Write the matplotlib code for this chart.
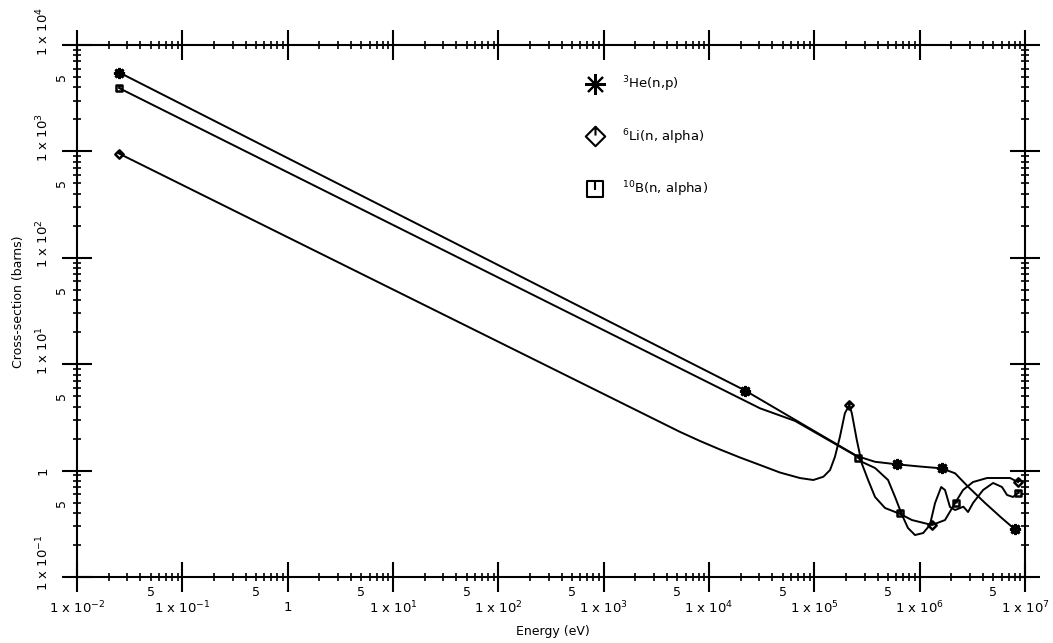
import numpy as np
import matplotlib
matplotlib.use("Agg")
import matplotlib.pyplot as plt
from matplotlib.path import Path
from matplotlib.lines import Line2D
from matplotlib.ticker import LogLocator, NullFormatter

# ---- data (energy in eV, cross-section in barns) ----
he3_energy = [0.0253, 2.2e4, 2.54e5, 3.77e5, 6.05e5, 1.0e6, 1.62e6, 2.17e6,
              2.88e6, 4.18e6, 6.02e6, 8.04e6]
he3_xs = [5500, 5.66, 1.37, 1.21, 1.146, 1.093, 1.05, 0.943,
          0.706, 0.496, 0.358, 0.280]
he3_mark_energy = [0.0253, 2.2e4, 6.05e5, 1.62e6, 8.04e6]
he3_mark_xs = [5500, 5.66, 1.146, 1.05, 0.280]

li6_energy = [0.0253, 5310, 8220, 12740, 19720, 30500, 47200, 73100, 97800,
              1.22e5, 1.41e5, 1.57e5, 1.75e5, 1.95e5, 2.15e5, 2.27e5, 2.53e5,
              2.82e5, 3.24e5, 3.77e5, 4.69e5, 6.51e5, 8.45e5, 1.31e6, 1.74e6,
              2.17e6, 2.58e6, 3.21e6, 4.37e6, 7.21e6, 8.59e6]
li6_xs = [950, 2.31, 1.897, 1.578, 1.327, 1.129, 0.959, 0.851, 0.816,
          0.876, 1.013, 1.35, 2.08, 3.46, 4.14, 3.46, 1.94,
          1.17, 0.816, 0.565, 0.445, 0.392, 0.343, 0.308, 0.343,
          0.496, 0.657, 0.781, 0.852, 0.852, 0.781]
li6_mark_energy = [0.0253, 2.15e5, 1.31e6, 8.59e6]
li6_mark_xs = [950, 4.14, 0.308, 0.781]

b10_energy = [0.0253, 3.05e4, 6.56e4, 2.54e5, 2.84e5, 3.77e5, 5.01e5, 5.84e5,
              6.8e5, 7.74e5, 9.03e5, 1.08e6, 1.25e6, 1.40e6, 1.60e6, 1.74e6,
              1.94e6, 2.17e6, 2.6e6, 2.88e6, 3.21e6, 4.0e6, 4.98e6, 6.05e6,
              6.75e6, 7.69e6, 8.59e6]
b10_xs = [3920, 3.85, 2.93, 1.36, 1.205, 1.058, 0.816, 0.565,
          0.383, 0.289, 0.248, 0.259, 0.308, 0.496, 0.701, 0.657,
          0.455, 0.426, 0.458, 0.408, 0.496, 0.657, 0.765, 0.701,
          0.590, 0.565, 0.616]
b10_mark_energy = [0.0253, 2.6e5, 6.5e5, 2.2e6, 8.59e6]
b10_mark_xs = [3920, 1.31, 0.40, 0.50, 0.616]

x_major = [1e-2, 1e-1, 1, 1e1, 1e2, 1e3, 1e4, 1e5, 1e6, 1e7]
x_major_labels = ["1 x 10$^{-2}$", "1 x 10$^{-1}$", "1", "1 x 10$^{1}$",
                  "1 x 10$^{2}$", "1 x 10$^{3}$", "1 x 10$^{4}$",
                  "1 x 10$^{5}$", "1 x 10$^{6}$", "1 x 10$^{7}$"]
x_five = [5e-2, 5e-1, 5, 5e1, 5e2, 5e3, 5e4, 5e5, 5e6]
y_major = [1e-1, 1, 1e1, 1e2, 1e3, 1e4]
y_major_labels = ["1 x 10$^{-1}$", "1", "1 x 10$^{1}$", "1 x 10$^{2}$",
                  "1 x 10$^{3}$", "1 x 10$^{4}$"]
y_five = [5e-1, 5, 5e1, 5e2, 5e3]

# custom legend style markers: diamond / square with a small vertical stroke
DIAMOND = Path([(0, 1), (1, 0), (0, -1), (-1, 0), (0, 1), (0, 1), (0, 0.1)],
               [Path.MOVETO, Path.LINETO, Path.LINETO, Path.LINETO,
                Path.CLOSEPOLY, Path.MOVETO, Path.LINETO])
SQUARE = Path([(-1, -1), (1, -1), (1, 1), (-1, 1), (-1, -1), (0, 1), (0, -0.1)],
              [Path.MOVETO, Path.LINETO, Path.LINETO, Path.LINETO,
               Path.CLOSEPOLY, Path.MOVETO, Path.LINETO])
STAR = (8, 2, 0)

fig = plt.figure(figsize=(10.53, 6.43), dpi=100)
ax = fig.add_axes([77 / 1053, 1 - 577 / 643, 948 / 1053, 532 / 643])

lw = 1.4
ax.plot(he3_energy, he3_xs, color="k", lw=lw)
ax.plot(li6_energy, li6_xs, color="k", lw=lw)
ax.plot(b10_energy, b10_xs, color="k", lw=lw)

ax.plot(he3_mark_energy, he3_mark_xs, ls="none", marker=STAR, ms=8, mew=2, color="k")
ax.plot(li6_mark_energy, li6_mark_xs, ls="none", marker=DIAMOND, ms=6,
        mew=1.8, mfc="none", color="k")
ax.plot(b10_mark_energy, b10_mark_xs, ls="none", marker=SQUARE, ms=5,
        mew=1.8, mfc="none", color="k")

ax.set_xscale("log")
ax.set_yscale("log")
ax.set_xlim(1e-2, 1e7)
ax.set_ylim(1e-1, 1e4)

for axis in (ax.xaxis, ax.yaxis):
  axis.set_major_locator(LogLocator(base=10, numticks=20))
  axis.set_minor_locator(LogLocator(base=10, subs=np.arange(2, 10), numticks=20))
  axis.set_minor_formatter(NullFormatter())

ax.tick_params(which="major", direction="inout", length=22, width=1.5,
               top=True, right=True, labelbottom=False, labelleft=False)
ax.tick_params(which="minor", direction="inout", length=6, width=1.2,
               top=True, right=True)
for s in ax.spines.values():
  s.set_linewidth(1.5)

fs = 9.5
# bottom tick labels
for v, lab in zip(x_major, x_major_labels):
  ax.annotate(lab, xy=(v, 0), xycoords=("data", "axes fraction"),
              xytext=(0, -22), textcoords="offset points",
              ha="center", va="center", fontsize=fs)
for v in x_five:
  ax.annotate("5", xy=(v, 0), xycoords=("data", "axes fraction"),
              xytext=(0, -11), textcoords="offset points",
              ha="center", va="center", fontsize=9)

# left tick labels (rotated, like the original)
for v, lab in zip(y_major, y_major_labels):
  dy = 0 if lab == "1" else 10
  ax.annotate(lab, xy=(0, v), xycoords=("axes fraction", "data"),
              xytext=(-24.5, dy), textcoords="offset points",
              ha="center", va="center", fontsize=fs, rotation=90)
for v in y_five:
  ax.annotate("5", xy=(0, v), xycoords=("axes fraction", "data"),
              xytext=(-11, 0), textcoords="offset points",
              ha="center", va="center", fontsize=9, rotation=90)

fig.text(19 / 1053, 1 - 302 / 643, "Cross-section (barns)", rotation=90,
         ha="center", va="center", fontsize=9)
fig.text(553 / 1053, 1 - 632 / 643, "Energy (eV)", ha="center", va="center",
         fontsize=9)

handles = [
  Line2D([], [], ls="none", marker=STAR, ms=15, mew=1.5, color="k"),
  Line2D([], [], ls="none", marker=DIAMOND, ms=14, mew=1.5, mfc="none", color="k"),
  Line2D([], [], ls="none", marker=SQUARE, ms=11, mew=1.5, mfc="none", color="k"),
]
labels = ["$^{3}$He(n,p)", "$^{6}$Li(n, alpha)", "$^{10}$B(n, alpha)"]
ax.legend(handles, labels, loc="upper left", bbox_to_anchor=(0.529, 0.957),
          frameon=False, fontsize=9.5, labelspacing=2.5, handlelength=1.5,
          handletextpad=1.3, borderpad=0)

fig.savefig("out.png", dpi=100, facecolor="white")
